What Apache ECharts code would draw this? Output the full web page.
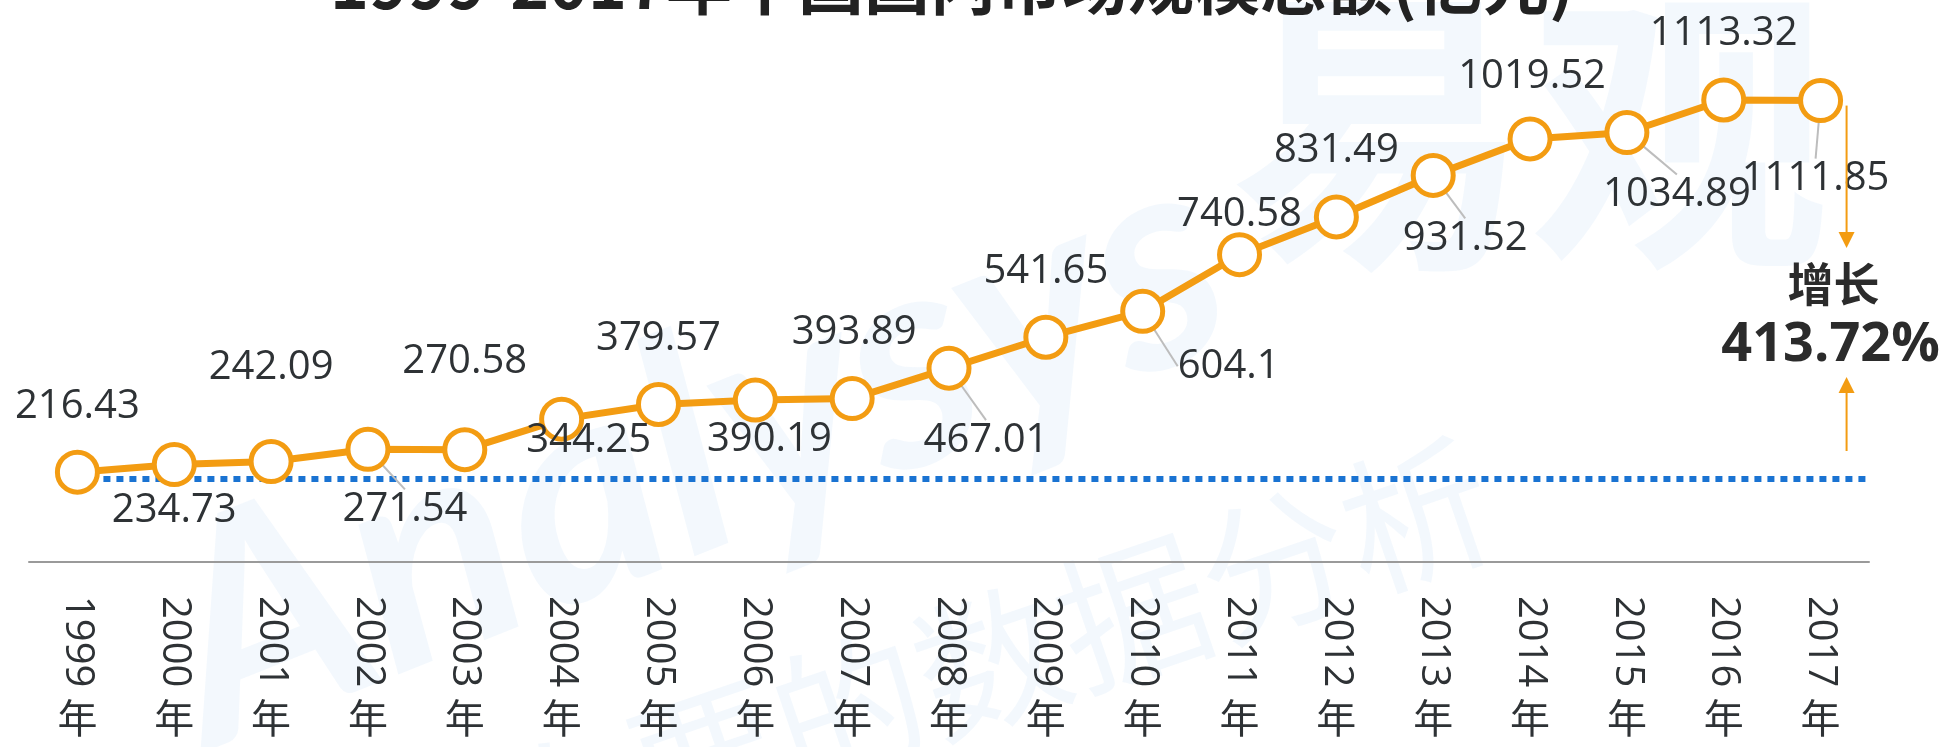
<!DOCTYPE html>
<html>
<head>
<meta charset="utf-8">
<style>
  html, body { margin: 0; padding: 0; background: #fff; }
  #chart { width: 1947px; height: 747px; }
</style>
<script src="https://cdn.jsdelivr.net/npm/echarts@6/dist/echarts.min.js"></script>
</head>
<body>
<div id="chart"></div>
<script>
// Values
const categories = ['1999年', '2000年', '2001年', '2002年', '2003年', '2004年', '2005年',
    '2006年', '2007年', '2008年', '2009年', '2010年', '2011年', '2012年', '2013年',
    '2014年', '2015年', '2016年', '2017年'];
const values = [216.43, 234.73, 242.09, 271.54, 270.58, 344.25, 379.57, 390.19, 393.89,
    467.01, 541.65, 604.1, 740.58, 831.49, 931.52, 1019.52, 1034.89, 1113.32, 1111.85];
const baselineValue = 200;
const growthLabel = '增长';
const growthText = '413.72%';
const titleText = '1999-2017年中国国内市场规模总额(亿元)';

// label placement (dx, dy from the point), and which labels get a leader line
const labelOffsets = [[0, -66], [0, 46], [0, -94], [37, 60], [0, -88], [27, 21], [0, -66],
    [14, 40], [2, -66], [37, 72], [0, -66], [86, 55], [0, -40], [0, -66], [32, 63],
    [2, -62], [50, 62], [0, -66], [-5, 78]];
const withLeader = [3, 9, 11, 14, 16, 18];

const orange = '#F39C12';
const textColor = '#2e3235';
const font = '"Open Sans", "Noto Sans CJK SC", sans-serif';

var chart = echarts.init(document.getElementById('chart'));

var seriesData = values.map(function (v, i) {
    return {
        value: v,
        labelLine: { show: withLeader.indexOf(i) >= 0 }
    };
});

var option = {
    backgroundColor: '#fff',
    animation: false,
    title: {
        text: titleText,
        left: 325,
        top: -54,
        textStyle: { fontSize: 66, fontWeight: 'bold', color: '#222', fontFamily: '"Noto Sans CJK SC", sans-serif' }
    },
    grid: { left: 29, right: 78, top: 64, bottom: 185 },
    xAxis: [{
        type: 'category',
        data: categories,
        axisLine: { lineStyle: { color: '#9a9a9a', width: 2 } },
        axisTick: { show: false },
        axisLabel: {
            rotate: -90,
            margin: 34,
            fontSize: 40,
            color: textColor,
            fontFamily: font,
            formatter: function (v) { return v.replace('年', ''); }
        }
    }, {
        type: 'category',
        data: categories,
        position: 'bottom',
        axisLine: { show: false },
        axisTick: { show: false },
        axisLabel: {
            margin: 140,
            fontSize: 40,
            color: textColor,
            fontFamily: font,
            formatter: function () { return '年'; }
        }
    }, {
        type: 'value',
        show: false,
        min: -0.5,
        max: categories.length - 0.5
    }],
    yAxis: {
        type: 'value',
        show: false,
        min: 0,
        max: 1200
    },
    series: [{
        name: 'baseline',
        type: 'line',
        xAxisIndex: 2,
        z: 1,
        symbol: 'none',
        silent: true,
        lineStyle: { color: '#1a73d2', width: 6, type: [7, 6] },
        data: [[0, baselineValue], [categories.length - 0.5, baselineValue]]
    }, {
        name: 'value',
        type: 'line',
        z: 3,
        data: seriesData,
        symbol: 'circle',
        symbolSize: 40,
        itemStyle: { color: '#fff', borderColor: orange, borderWidth: 5 },
        lineStyle: { color: orange, width: 7 },
        label: {
            show: true,
            position: 'inside',
            fontSize: 40,
            color: textColor,
            fontFamily: font
        },
        labelLine: {
            lineStyle: { color: '#bdbdbd', width: 2 }
        },
        labelLayout: function (params) {
            var o = labelOffsets[params.dataIndex];
            return { dx: o[0], dy: o[1] };
        }
    }]
};

chart.setOption(option);

// growth annotation next to the last point
var last = chart.convertToPixel({ seriesIndex: 1 }, [categories.length - 1, values[values.length - 1]]);
var base = chart.convertToPixel({ seriesIndex: 0 }, [0, baselineValue]);
var ax = last[0] + 26;
chart.setOption({
    graphic: [
        // faint watermark
        { type: 'text', z: -10, x: 120, y: 520, rotation: 0.38,
          style: { text: 'Analysys', fontSize: 300, fontStyle: 'italic', fontWeight: 'bold', fill: 'rgba(120,180,235,0.09)', fontFamily: 'Lato' } },
        { type: 'text', z: -10, x: 1230, y: -20,
          style: { text: '易观', fontSize: 300, fontWeight: 'bold', fill: 'rgba(120,180,235,0.09)', fontFamily: '"Noto Sans CJK SC"' } },
        { type: 'text', z: -10, x: 470, y: 760, rotation: 0.33,
          style: { text: '你要的数据分析', fontSize: 150, fill: 'rgba(120,180,235,0.09)', fontFamily: '"Noto Sans CJK SC"' } },
        { type: 'line', z: 10, shape: { x1: ax, y1: last[1] + 5, x2: ax, y2: 235 },
          style: { stroke: orange, lineWidth: 2 } },
        { type: 'polygon', z: 10, shape: { points: [[ax, 248], [ax - 8, 232], [ax + 8, 232]] },
          style: { fill: orange } },
        { type: 'line', z: 10, shape: { x1: ax, y1: base[1] - 28, x2: ax, y2: 390 },
          style: { stroke: orange, lineWidth: 2 } },
        { type: 'polygon', z: 10, shape: { points: [[ax, 377], [ax - 8, 393], [ax + 8, 393]] },
          style: { fill: orange } },
        { type: 'text', z: 10, x: last[0] + 13, y: 284,
          style: { text: growthLabel, fontSize: 46, fontWeight: 'bold', fill: '#2b2b2b',
                   align: 'center', verticalAlign: 'middle', fontFamily: '"Noto Sans CJK SC"' } },
        { type: 'text', z: 10, x: last[0] + 10, y: 346,
          style: { text: growthText, fontSize: 54, fontWeight: 'bold', fill: '#2b2b2b',
                   align: 'center', verticalAlign: 'middle', fontFamily: '"Open Sans", sans-serif' } }
    ]
});
</script>
</body>
</html>
